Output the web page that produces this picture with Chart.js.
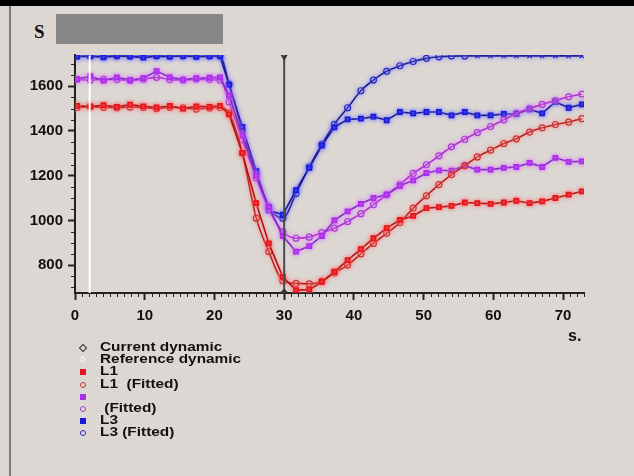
<!DOCTYPE html>
<html>
<head>
<meta charset="utf-8">
<script src="https://cdn.jsdelivr.net/npm/chart.js@4.4.1/dist/chart.umd.min.js"></script>
<style>
  html, body { margin: 0; padding: 0; }
  body { width: 634px; height: 476px; background: #dcd7d3; position: relative; overflow: hidden; }
  #topbar { position: absolute; left: 0; top: 0; width: 634px; height: 6px; background: #000; }
  #leftline { position: absolute; left: 9px; top: 6px; width: 2px; height: 470px; background: #7a7a7a; }
  #hidden { position: absolute; left: 56px; top: 14px; width: 167px; height: 30px; background: #878787; }
  #ylab { position: absolute; left: 34px; top: 21px; font: bold 19px "Liberation Serif", serif; color: #111; }
  #xlab { position: absolute; left: 568px; top: 327px; font: bold 16px "Liberation Sans", sans-serif; color: #111; }
  #wrap { position: absolute; left: 0; top: 0; width: 634px; height: 476px; }
  #legend { position: absolute; left: 76px; top: 342px; }
  .row { position: relative; height: 12.2px; }
  .row span { position: absolute; left: 24px; top: -2px; font: bold 13.5px "Liberation Sans", sans-serif; line-height: 13px;
              color: #111; white-space: pre; transform: scaleX(1.14); transform-origin: 0 0; }
  .mk { position: absolute; box-sizing: border-box; }
</style>
</head>
<body>
<div id="topbar"></div>
<div id="leftline"></div>
<div id="ylab">S</div>
<div id="hidden"></div>
<div id="wrap"><canvas id="chart" width="634" height="476"></canvas></div>
<div id="xlab">s.</div>
<div id="legend"></div>
<script>
// time axis (s.)
const times = [0.3, 2.2, 4.1, 6.0, 7.9, 9.8, 11.7, 13.6, 15.5, 17.4, 19.3, 20.8,
  22.1, 24.0, 26.0, 27.8, 29.8, 31.7, 33.6, 35.4, 37.2, 39.1, 41.0, 42.8, 44.7,
  46.6, 48.5, 50.4, 52.2, 54.0, 55.9, 57.7, 59.6, 61.5, 63.3, 65.2, 67.0, 68.9, 70.8, 72.7];

const l1 = [1512, 1510, 1515, 1508, 1518, 1510, 1505, 1512, 1500, 1510, 1508, 1512,
  1474, 1302, 1077, 897, 747, 688, 690, 725, 770, 822, 871, 920, 965,
  1002, 1020, 1055, 1059, 1065, 1080, 1077, 1074, 1080, 1088, 1077, 1085, 1100, 1115, 1130];
const l1Fit = [1505, 1508, 1506, 1504, 1507, 1505, 1500, 1506, 1504, 1498, 1503, 1505,
  1480, 1300, 1010, 860, 730, 718, 716, 728, 765, 800, 850, 897, 942,
  990, 1055, 1110, 1160, 1205, 1245, 1284, 1314, 1344, 1365, 1395, 1414, 1429, 1440, 1455];

const l2 = [1632, 1645, 1625, 1640, 1628, 1636, 1668, 1640, 1630, 1636, 1638, 1640,
  1560, 1380, 1200, 1060, 930, 860, 885, 930, 1000, 1040, 1074, 1100, 1115,
  1155, 1179, 1212, 1224, 1222, 1245, 1227, 1227, 1235, 1239, 1257, 1239, 1280, 1262, 1264];
const l2Fit = [1630, 1628, 1632, 1630, 1626, 1632, 1640, 1630, 1628, 1632, 1630, 1628,
  1530, 1360, 1190, 1050, 950, 920, 925, 945, 965, 995, 1030, 1070, 1115,
  1160, 1210, 1249, 1289, 1329, 1363, 1393, 1420, 1450, 1479, 1500, 1519, 1536, 1553, 1565];

const l3 = [1733, 1735, 1730, 1736, 1734, 1728, 1735, 1733, 1736, 1732, 1735, 1735,
  1606, 1418, 1220, 1045, 1025, 1135, 1235, 1335, 1416, 1452, 1455, 1464, 1448,
  1485, 1479, 1485, 1485, 1470, 1485, 1470, 1470, 1476, 1476, 1497, 1479, 1530, 1504, 1519];
const l3Fit = [1735, 1734, 1735, 1735, 1734, 1735, 1735, 1734, 1735, 1735, 1734, 1735,
  1610, 1400, 1210, 1060, 1010, 1120, 1240, 1340, 1430, 1504, 1580, 1628, 1667,
  1692, 1711, 1725, 1732, 1735, 1736, 1736, 1736, 1736, 1736, 1736, 1736, 1736, 1736, 1736];
// fitted L3 points drawn as crosses from here on
const l3CrossFrom = 57;

const xTicks = [0, 10, 20, 30, 40, 50, 60, 70];
const yTicks = [800, 1000, 1200, 1400, 1600];
const xMax = 73;
const yMin = 675, yMax = 1740;
const cursorTime = 30;
const referenceTime = 2.1;

const legendLabels = ["Current dynamic", "Reference dynamic", "L1", "L1  (Fitted)", "", " (Fitted)", "L3", "L3 (Fitted)"];

function pts(ys) {
  return times.map((t, i) => ({ x: t, y: ys[i] }));
}

function measured(label, ys, fill, line, glow) {
  return {
    label: label, data: pts(ys), borderColor: line, borderWidth: 1.6,
    pointStyle: 'rect', pointRadius: 3, pointBackgroundColor: fill, pointBorderColor: fill,
    tension: 0, glow: glow
  };
}
function fitted(label, ys, stroke, line, glow) {
  return {
    label: label, data: pts(ys), borderColor: line, borderWidth: 1.6,
    pointStyle: 'circle', pointRadius: 3, pointBackgroundColor: 'rgba(0,0,0,0)',
    pointBorderColor: stroke, pointBorderWidth: 1.2,
    cubicInterpolationMode: 'monotone', glow: glow
  };
}

const l3FitDs = fitted("L3 (Fitted)", l3Fit, '#2626c8', '#1c1c8c', 'rgba(120,120,255,0.9)');
l3FitDs.pointStyle = times.map(t => t < l3CrossFrom ? 'circle' : 'crossRot');

const datasets = [
  {
    label: legendLabels[0], data: [{ x: cursorTime, y: yMin }, { x: cursorTime, y: yMax - 4 }],
    borderColor: '#4a4a4a', borderWidth: 2, pointStyle: ['rectRot', 'triangle'], rotation: [0, 180],
    pointRadius: [3, 3], pointBackgroundColor: 'rgba(0,0,0,0)', pointBorderColor: '#333'
  },
  {
    label: legendLabels[1], data: [{ x: referenceTime, y: yMin }, { x: referenceTime, y: yMax - 2 }],
    borderColor: '#ffffff', borderWidth: 2, pointRadius: 0
  },
  measured(legendLabels[2], l1, '#e4161c', '#b01212', 'rgba(255,110,110,0.9)'),
  fitted(legendLabels[3], l1Fit, '#c83232', '#b41c1c', 'rgba(255,130,130,0.9)'),
  measured(legendLabels[4], l2, '#a82ee8', '#7a2ac4', 'rgba(220,110,255,0.9)'),
  fitted(legendLabels[5], l2Fit, '#9a44cc', '#b02ccc', 'rgba(240,120,255,0.9)'),
  measured(legendLabels[6], l3, '#1a1ad8', '#16168e', 'rgba(110,110,255,0.9)'),
  l3FitDs
];

// soft coloured halo round each series, as in the screenshot
const glowPlugin = {
  id: 'glow',
  beforeDatasetDraw(chart, args) {
    const ds = chart.data.datasets[args.index];
    if (!ds.glow) return;
    chart.ctx.save();
    chart.ctx.shadowColor = ds.glow;
    chart.ctx.shadowBlur = 4;
  },
  afterDatasetDraw(chart, args) {
    const ds = chart.data.datasets[args.index];
    if (!ds.glow) return;
    chart.ctx.restore();
  }
};

const minorTicks = {
  id: 'minorTicks',
  afterDraw(chart) {
    const { ctx, chartArea } = chart;
    const x = chart.scales.x, y = chart.scales.y;
    ctx.save();
    ctx.strokeStyle = '#222';
    ctx.lineWidth = 1;
    ctx.beginPath();
    for (let v = 1; v <= xMax; v++) {
      if (v % 10 === 0) continue;
      const px = Math.round(x.getPixelForValue(v)) + 0.5;
      ctx.moveTo(px, chartArea.bottom);
      ctx.lineTo(px, chartArea.bottom + 4);
    }
    for (let v = 700; v <= yMax; v += 50) {
      if (v % 200 === 0) continue;
      const py = Math.round(y.getPixelForValue(v)) + 0.5;
      ctx.moveTo(chartArea.left - 4, py);
      ctx.lineTo(chartArea.left, py);
    }
    ctx.stroke();
    ctx.restore();
  }
};

const tickFont = { family: 'Liberation Sans', weight: 'bold', size: 15 };

new Chart(document.getElementById("chart"), {
  type: "line",
  data: { datasets: datasets },
  options: {
    responsive: false,
    animation: false,
    devicePixelRatio: 1,
    layout: { padding: { left: 0, top: 55, right: 50, bottom: 150 } },
    plugins: { legend: { display: false }, tooltip: { enabled: false } },
    elements: { line: { fill: false } },
    scales: {
      x: {
        type: 'linear', min: 0, max: xMax,
        afterBuildTicks: s => { s.ticks = xTicks.map(v => ({ value: v })); },
        afterFit: s => { s.height = 33; },
        border: { color: '#222', width: 2 },
        grid: { drawOnChartArea: false, tickLength: 7, tickColor: '#222', tickWidth: 2 },
        ticks: { font: tickFont, color: '#111', padding: 7, maxRotation: 0 }
      },
      y: {
        type: 'linear', min: yMin, max: yMax,
        afterBuildTicks: s => { s.ticks = yTicks.map(v => ({ value: v })); },
        afterFit: s => { s.width = 75; },
        border: { color: '#222', width: 2 },
        grid: { drawOnChartArea: false, tickLength: 7, tickColor: '#222', tickWidth: 2 },
        ticks: { font: tickFont, color: '#111', padding: 5, callback: v => String(v) }
      }
    }
  },
  plugins: [glowPlugin, minorTicks]
});

// legend below the plot, one entry per dataset
const legend = document.getElementById("legend");
datasets.forEach((ds, i) => {
  const row = document.createElement("div");
  row.className = "row";
  const txt = document.createElement("span");
  txt.textContent = legendLabels[i];
  row.appendChild(txt);
  const mk = document.createElement("div");
  mk.className = "mk";
  const style = Array.isArray(ds.pointStyle) ? ds.pointStyle[0] : ds.pointStyle;
  if (i === 0) {
    mk.style.cssText = "left:4px;top:3px;width:6px;height:6px;border:1px solid #333;transform:rotate(45deg)";
  } else if (i === 1) {
    mk.style.cssText = "left:4px;top:3px;width:5px;height:5px;border:1px solid #f4f4f4;transform:rotate(45deg)";
  } else if (style === 'rect') {
    mk.style.cssText = "left:4px;top:3px;width:6px;height:6px;background:" + ds.pointBackgroundColor;
  } else {
    mk.style.cssText = "left:4px;top:3px;width:6px;height:6px;border-radius:50%;border:1px solid " + ds.pointBorderColor;
  }
  row.appendChild(mk);
  legend.appendChild(row);
});
</script>
</body>
</html>
